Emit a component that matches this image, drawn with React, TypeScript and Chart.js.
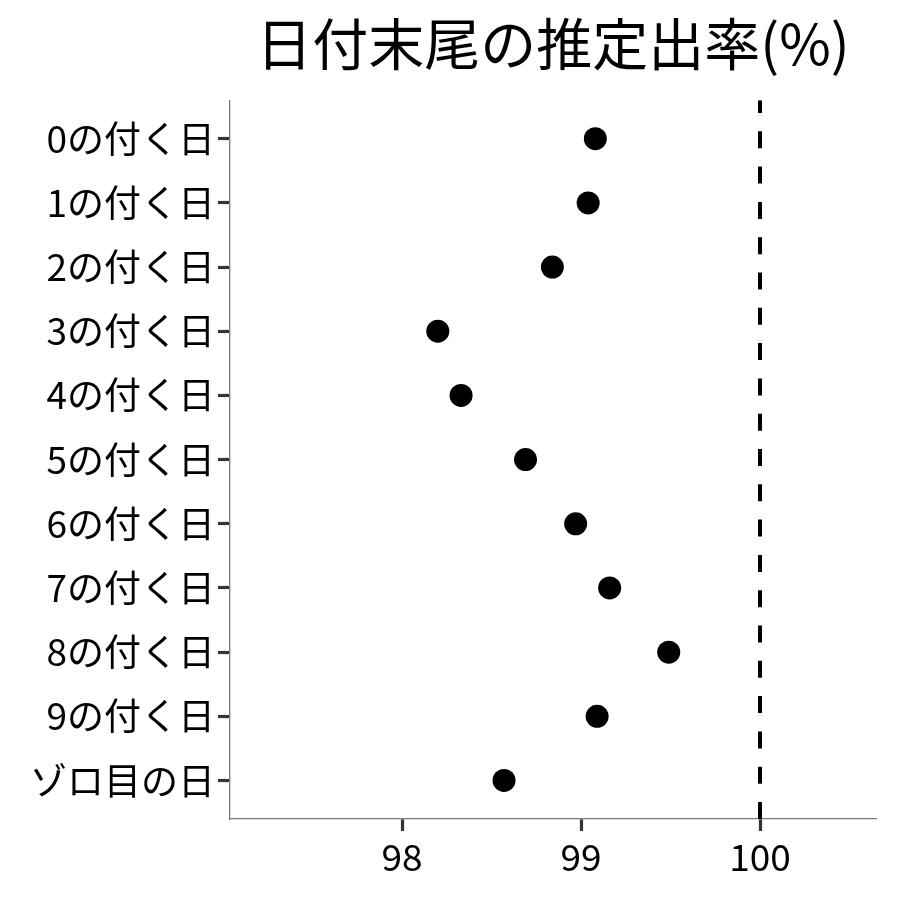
import React, { useEffect, useRef } from "react";
import { Chart, registerables } from "chart.js";

Chart.register(...registerables);

const categories = [
  "0の付く日",
  "1の付く日",
  "2の付く日",
  "3の付く日",
  "4の付く日",
  "5の付く日",
  "6の付く日",
  "7の付く日",
  "8の付く日",
  "9の付く日",
  "ゾロ目の日",
];
const rates = [99.08, 99.04, 98.84, 98.2, 98.33, 98.69, 98.97, 99.16, 99.49, 99.09, 98.57];
const xTicks = [98, 99, 100];
const refValue = 100;
const titleText = "日付末尾の推定出率(%)";

const FONT = "'Noto Sans CJK JP', 'Noto Sans CJK SC', sans-serif";

export default function App() {
  const ref = useRef<HTMLCanvasElement | null>(null);

  useEffect(() => {
    if (!ref.current) return;
    const yMin = -0.6;
    const yMax = categories.length - 1 + 0.6;
    const chart = new Chart(ref.current, {
      type: "scatter",
      data: {
        datasets: [
          {
            label: "ref",
            data: [
              { x: refValue, y: yMax },
              { x: refValue, y: yMin },
            ],
            showLine: true,
            borderColor: "#000",
            borderWidth: 4,
            borderDash: [17, 18.3],
            pointRadius: 0,
            borderCapStyle: "butt",
          } as any,
          {
            label: "rate",
            data: rates.map((v, i) => ({ x: v, y: i })),
            backgroundColor: "#000",
            borderColor: "#000",
            pointRadius: 11.5,
            borderWidth: 0,
          },
        ],
      },
      options: {
        responsive: false,
        animation: false,
        layout: { padding: { left: 0, right: 24, top: 0, bottom: 0 } },
        plugins: {
          legend: { display: false },
          tooltip: { enabled: false },
          title: {
            display: true,
            text: titleText,
            fullSize: false,
            color: "#000",
            font: { family: FONT, size: 56, weight: "normal" },
            padding: { top: 10, bottom: 23 },
          },
        },
        scales: {
          x: {
            type: "linear",
            min: 97.039,
            max: 100.648,
            afterBuildTicks: (s: any) => {
              s.ticks = xTicks.map((v) => ({ value: v }));
            },
            afterFit: (s: any) => {
              s.height = 81;
            },
            grid: {
              display: true,
              drawOnChartArea: false,
              drawTicks: true,
              tickLength: 12,
              tickColor: "#333",
              tickWidth: 3.2,
            },
            border: { display: true, color: "#7a7a7a", width: 1.3 },
            ticks: {
              color: "#000",
              font: { family: FONT, size: 37 },
              padding: 4,
              maxRotation: 0,
              autoSkip: false,
            },
          },
          y: {
            type: "linear",
            min: yMin,
            max: yMax,
            reverse: true,
            afterBuildTicks: (s: any) => {
              s.ticks = categories.map((_, i) => ({ value: i }));
            },
            afterFit: (s: any) => {
              s.width = 230;
            },
            grid: {
              display: true,
              drawOnChartArea: false,
              drawTicks: true,
              tickLength: 12,
              tickColor: "#333",
              tickWidth: 3.2,
            },
            border: { display: true, color: "#7a7a7a", width: 1.3 },
            ticks: {
              color: "#000",
              font: { family: FONT, size: 37 },
              padding: 3,
              autoSkip: false,
              callback: (v: any) => categories[Number(v)] ?? "",
            },
          },
        },
      },
    });
    return () => chart.destroy();
  }, []);

  return (
    <div style={{ position: "absolute", left: 0, top: 0, width: 900, height: 900, background: "#fff" }}>
      <canvas ref={ref} width={900} height={900} style={{ width: 900, height: 900 }} />
    </div>
  );
}
